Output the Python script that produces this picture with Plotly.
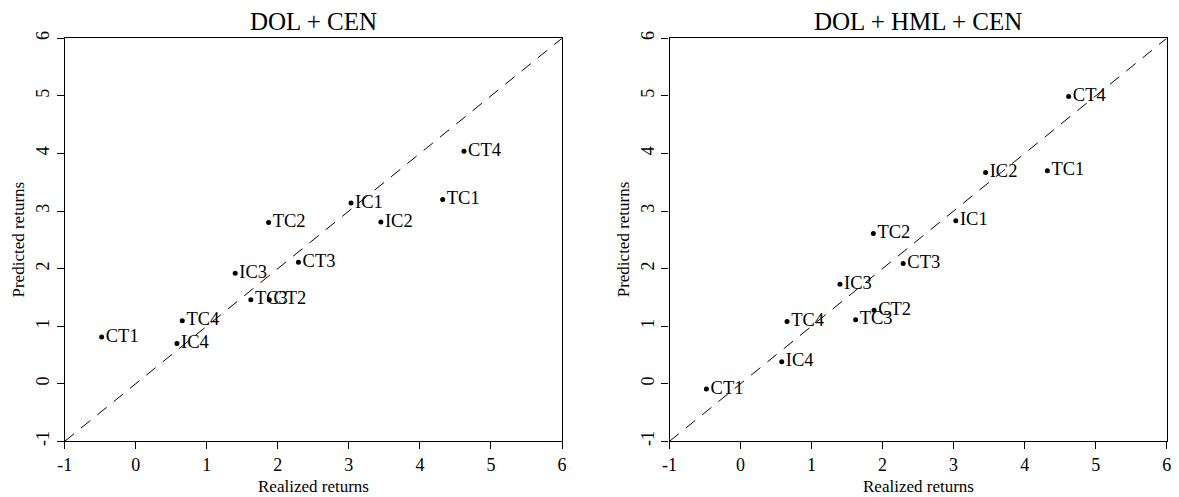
import plotly.graph_objects as go

portfolios = ["CT1", "CT2", "CT3", "CT4", "IC1", "IC2", "IC3", "IC4",
              "TC1", "TC2", "TC3", "TC4"]
realized = [-0.48, 1.88, 2.29, 4.62, 3.03, 3.45, 1.40, 0.58,
            4.32, 1.87, 1.62, 0.655]
pred_dol_cen = [0.81, 1.46, 2.11, 4.04, 3.14, 2.81, 1.92, 0.70,
                3.20, 2.80, 1.46, 1.095]
pred_dol_hml_cen = [-0.09, 1.275, 2.09, 4.99, 2.83, 3.67, 1.73, 0.38,
                    3.70, 2.61, 1.11, 1.08]
panel_titles = ["DOL + CEN", "DOL + HML + CEN"]
tick_vals = [-1, 0, 1, 2, 3, 4, 5, 6]
axis_range = [-1, 6]

FONT = "Liberation Serif"
W, H = 1179, 497

fig = go.Figure()

x_domains = [[64.7 / W, 562.0 / W], [669.5 / W, 1166.7 / W]]
y_domain = [1 - 441.3 / H, 1 - 38.3 / H]

for i, (preds, title) in enumerate(zip([pred_dol_cen, pred_dol_hml_cen], panel_titles)):
    xa = "x" if i == 0 else "x2"
    ya = "y" if i == 0 else "y2"
    # 45-degree reference line
    fig.add_trace(go.Scatter(
        x=axis_range, y=axis_range, mode="lines",
        line=dict(color="black", width=1, dash="12px,9px"),
        xaxis=xa, yaxis=ya, showlegend=False, hoverinfo="skip"))
    fig.add_trace(go.Scatter(
        x=realized, y=preds, mode="markers+text",
        text=portfolios, textposition="middle right",
        textfont=dict(family=FONT, size=18.5, color="black"),
        marker=dict(color="black", size=5),
        xaxis=xa, yaxis=ya, showlegend=False, cliponaxis=False))

axis_common = dict(
    range=axis_range, tickvals=tick_vals, ticktext=[str(v) for v in tick_vals],
    showgrid=False, zeroline=False, showline=True, linecolor="black", linewidth=1.3,
    mirror=True, ticks="outside", ticklen=7, tickcolor="black", tickwidth=1.2,
    tickfont=dict(family=FONT, size=18, color="black"), automargin=False,
)

fig.update_layout(
    width=W, height=H,
    margin=dict(l=0, r=0, t=0, b=0, autoexpand=False),
    paper_bgcolor="white", plot_bgcolor="white",
    xaxis=dict(domain=x_domains[0], anchor="y", **axis_common),
    yaxis=dict(domain=y_domain, anchor="x", tickangle=-90, **axis_common),
    xaxis2=dict(domain=x_domains[1], anchor="y2", **axis_common),
    yaxis2=dict(domain=y_domain, anchor="x2", tickangle=-90, **axis_common),
)

annotations = []
for i, title in enumerate(panel_titles):
    xd = x_domains[i]
    xc = (xd[0] + xd[1]) / 2
    annotations.append(dict(
        text=title, x=xc, y=1 - 22 / H, xref="paper", yref="paper",
        xanchor="center", yanchor="middle", showarrow=False,
        font=dict(family=FONT, size=25, color="black")))
    annotations.append(dict(
        text="Realized returns", x=xc, y=1 - 486 / H, xref="paper", yref="paper",
        xanchor="center", yanchor="middle", showarrow=False,
        font=dict(family=FONT, size=17, color="black")))
    annotations.append(dict(
        text="Predicted returns", x=(xd[0] * W - 46) / W,
        y=(y_domain[0] + y_domain[1]) / 2, xref="paper", yref="paper",
        xanchor="center", yanchor="middle", showarrow=False, textangle=-90,
        font=dict(family=FONT, size=17, color="black")))
fig.update_layout(annotations=annotations)

fig.write_html("out.html", config={"displayModeBar": False},
               post_script="document.body.style.margin='0';document.body.style.overflow='hidden';")
